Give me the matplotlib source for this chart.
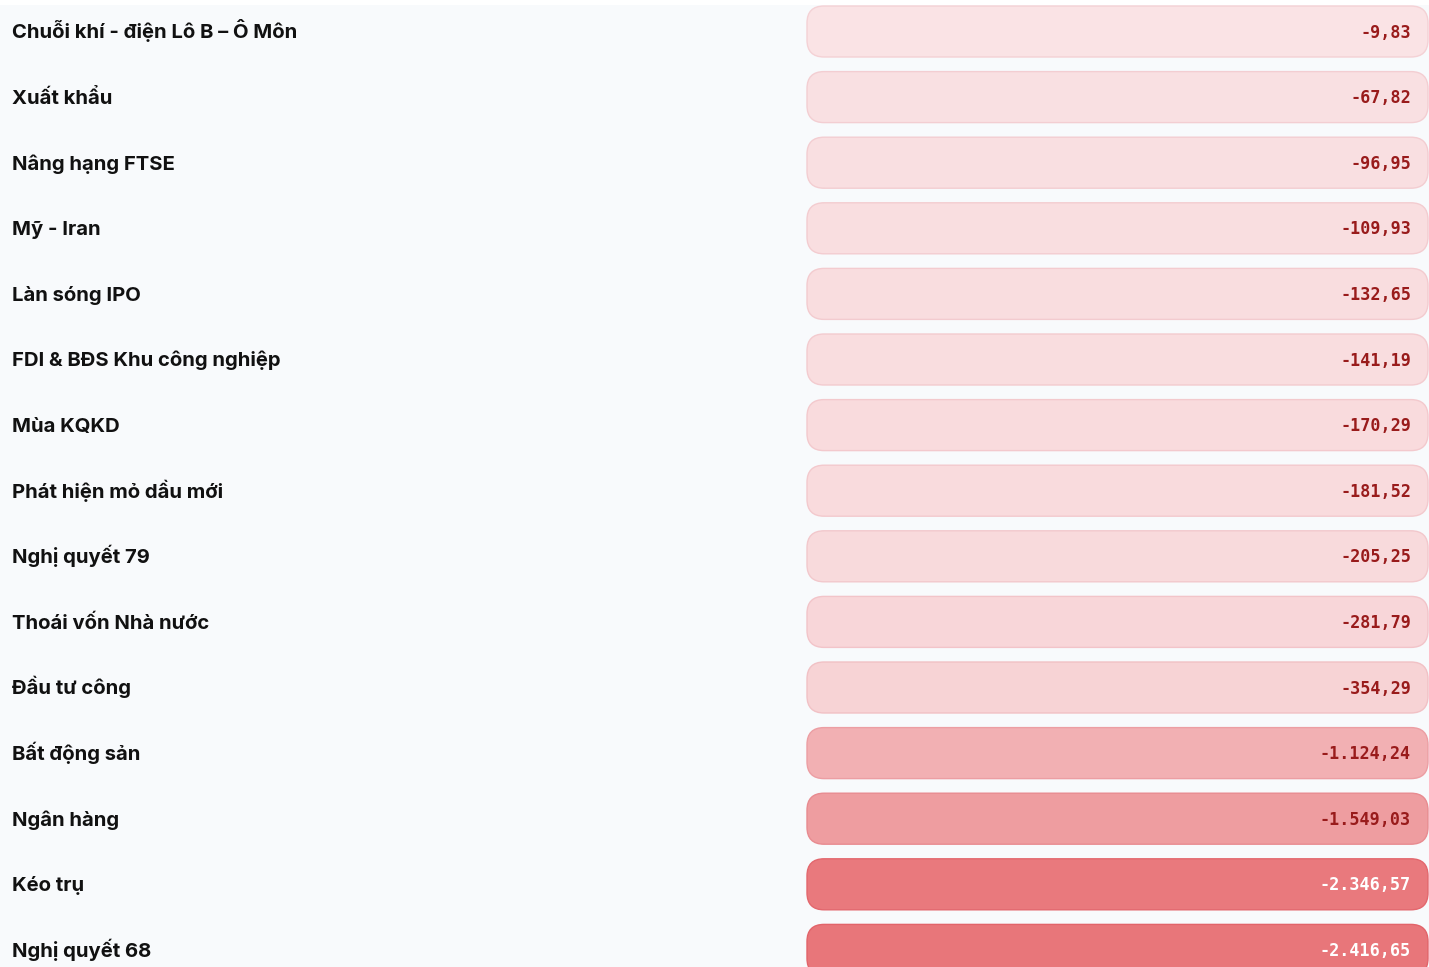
import matplotlib.pyplot as plt
from matplotlib.patches import FancyBboxPatch, Rectangle

# data
topics = ['Chuỗi khí - điện Lô B – Ô Môn', 'Xuất khẩu', 'Nâng hạng FTSE',
          'Mỹ - Iran', 'Làn sóng IPO', 'FDI & BĐS Khu công nghiệp',
          'Mùa KQKD', 'Phát hiện mỏ dầu mới', 'Nghị quyết 79',
          'Thoái vốn Nhà nước', 'Đầu tư công', 'Bất động sản',
          'Ngân hàng', 'Kéo trụ', 'Nghị quyết 68']
values = [-9.83, -67.82, -96.95, -109.93, -132.65, -141.19, -170.29,
          -181.52, -205.25, -281.79, -354.29, -1124.24, -1549.03,
          -2346.57, -2416.65]


def fmt_vn(v):
    s = f'{v:,.2f}'
    return s.replace(',', 'X').replace('.', ',').replace('X', '.')


W, H = 1429, 967
BG = '#f8fafc'
LIGHT = (250, 227, 229)
DARK = (232, 118, 122)


def mix(t, shift=(0, 0, 0)):
    return tuple(max(0, (lo + t * (hi - lo)) - s) / 255
                 for lo, hi, s in zip(LIGHT, DARK, shift))


fig = plt.figure(figsize=(W / 100, H / 100), dpi=100, facecolor=BG)
ax = fig.add_axes([0, 0, 1, 1])
ax.set_xlim(0, W)
ax.set_ylim(H, 0)
ax.axis('off')
ax.add_patch(Rectangle((0, 0), W, 5, facecolor='white', edgecolor='none'))

row_h = 65.6
vmax = max(abs(v) for v in values)
for i, (name, v) in enumerate(zip(topics, values)):
    yc = 31.5 + i * row_h
    t = abs(v) / vmax
    box = FancyBboxPatch((807, yc - 25.5), 621, 51,
                         boxstyle='round,pad=0,rounding_size=17',
                         facecolor=mix(t), edgecolor=mix(t, (6, 18, 16)),
                         linewidth=1.0)
    ax.add_patch(box)
    ax.text(12, yc + 7, name, ha='left', va='baseline', fontsize=14.6,
            fontweight='bold', family=['Inter', 'DejaVu Sans'],
            color='#111111')
    tcol = 'white' if t > 0.8 else '#991b1b'
    ax.text(1411, yc + 6, fmt_vn(v), ha='right', va='baseline',
            fontsize=12.1, fontweight='bold', family='DejaVu Sans Mono',
            color=tcol)

fig.savefig('out.png', dpi=100, facecolor=BG)
